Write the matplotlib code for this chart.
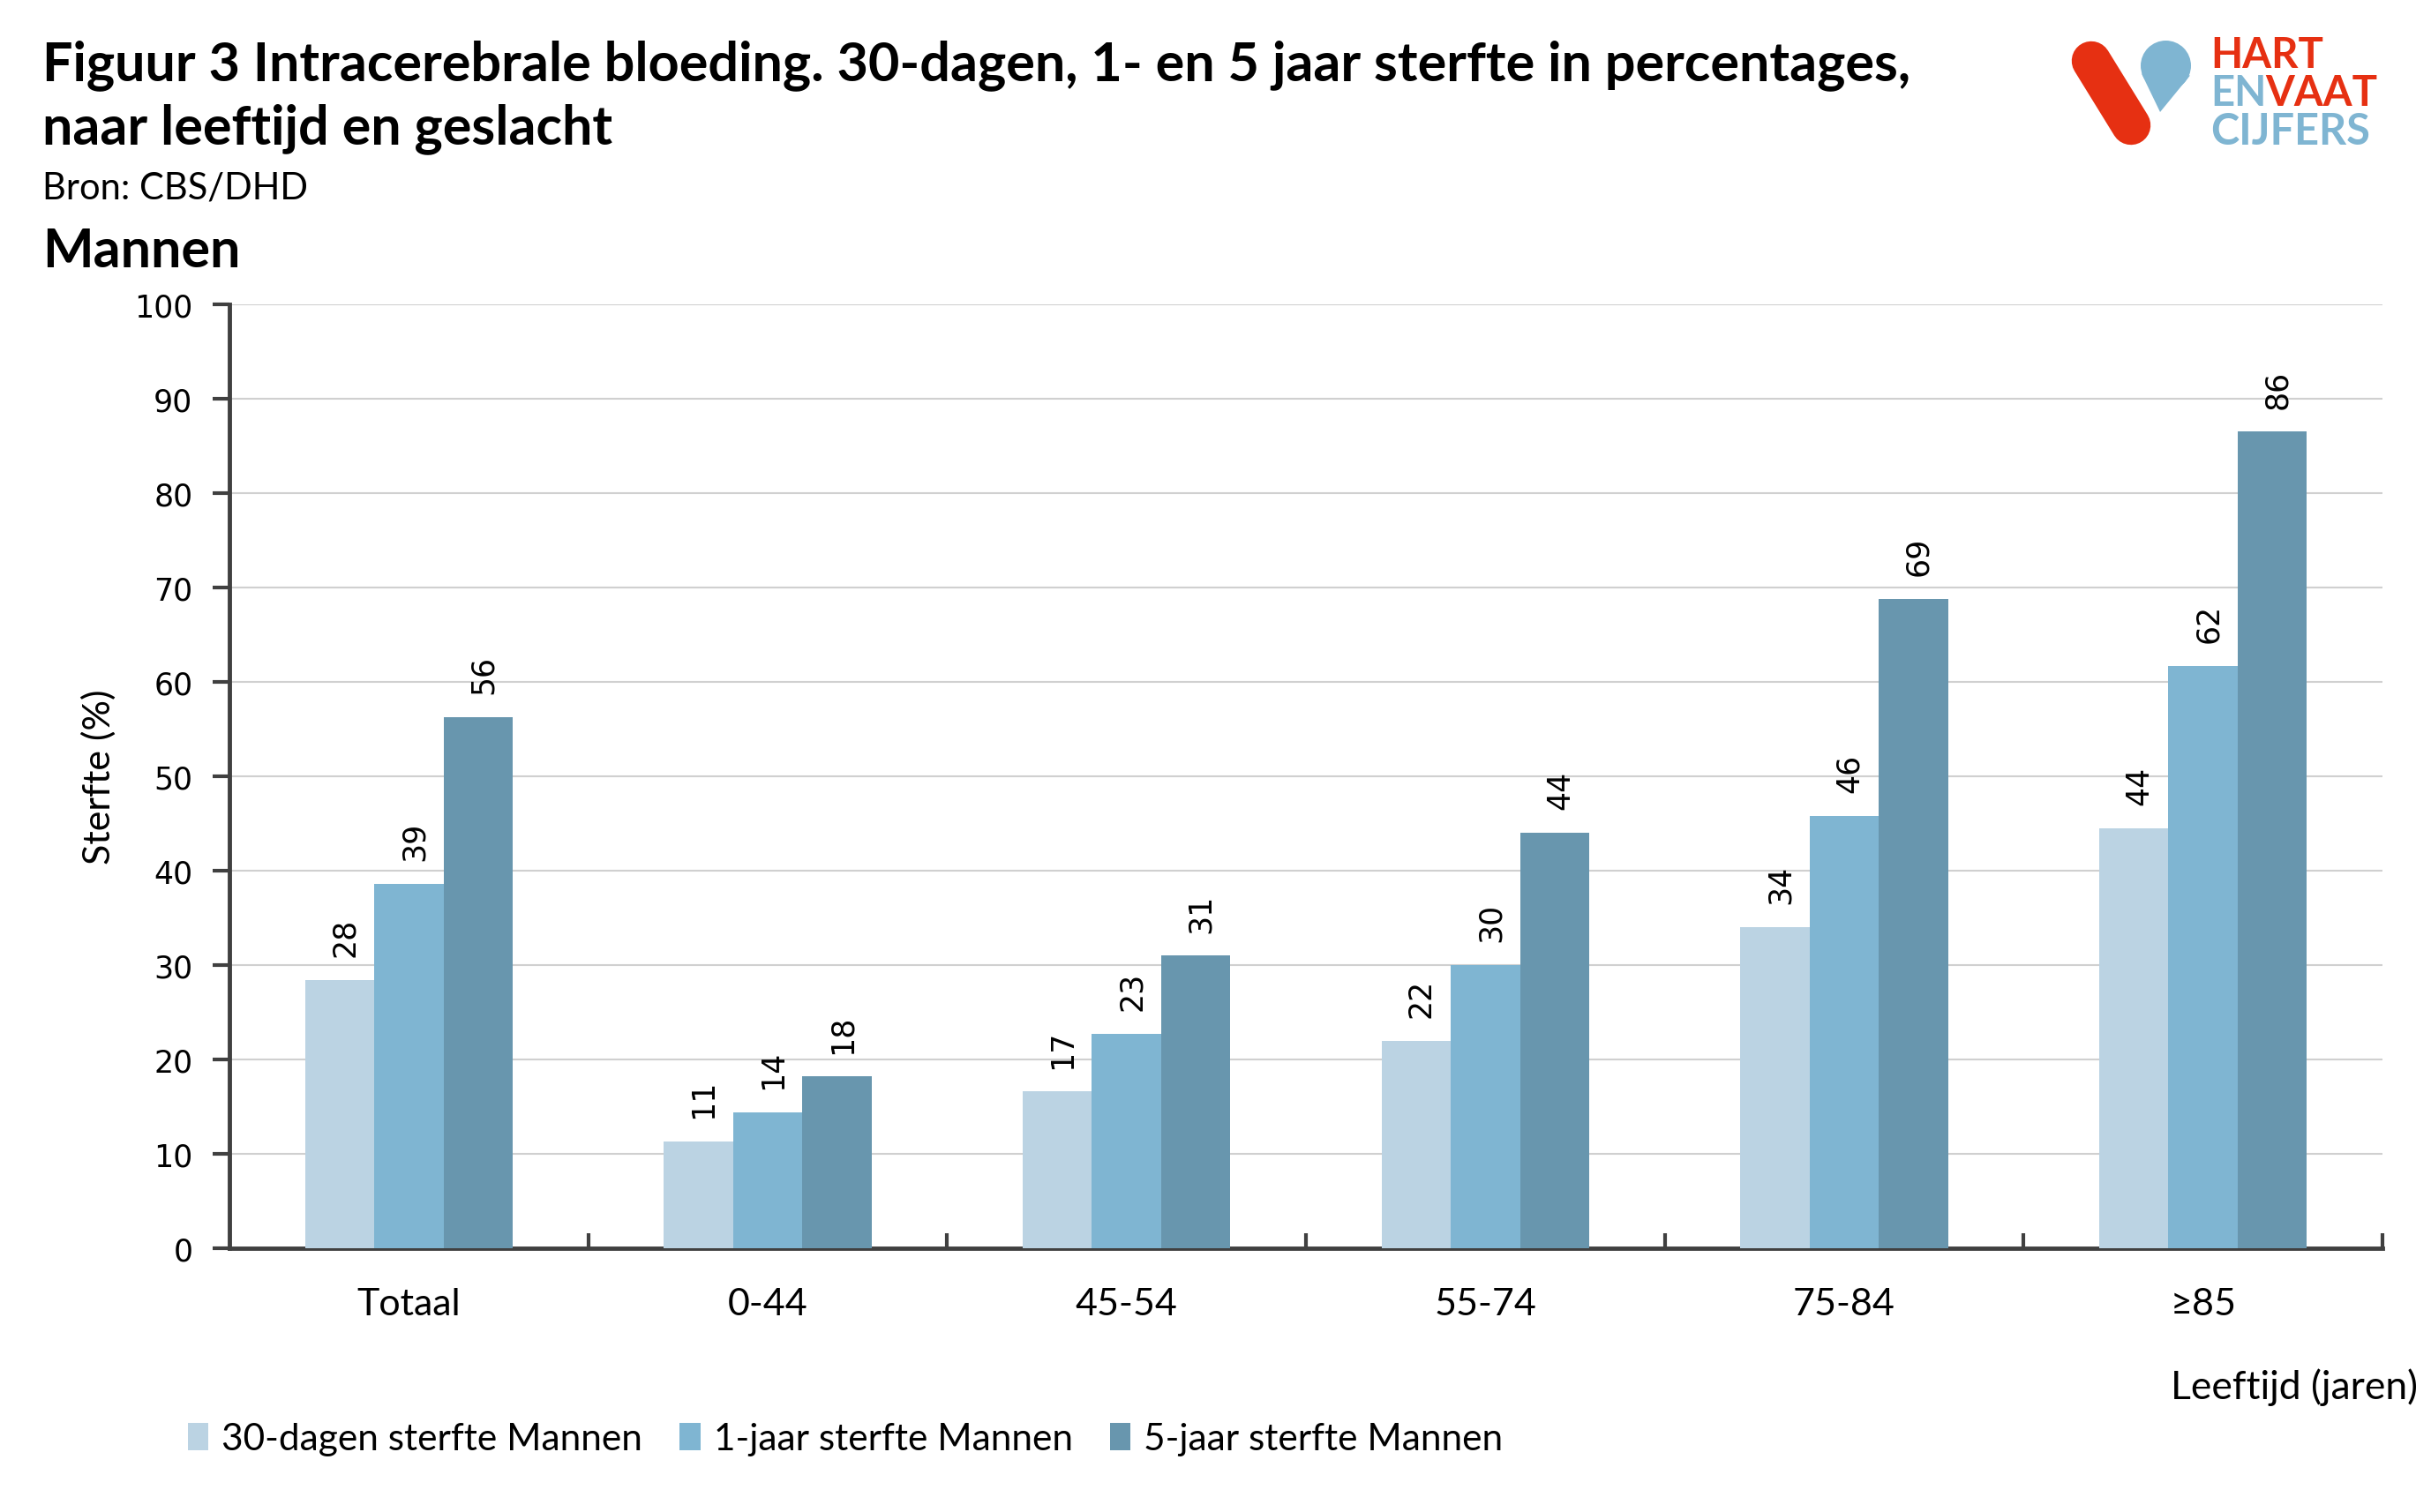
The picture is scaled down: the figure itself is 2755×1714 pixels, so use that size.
import matplotlib.pyplot as plt
import matplotlib.patches as mpatches
import numpy as np

categories = ["Totaal", "0-44", "45-54", "55-74", "75-84", "≥85"]
sterfte_30d = [28.4, 11.3, 16.6, 22.0, 34.0, 44.5]
sterfte_1j = [38.6, 14.4, 22.7, 30.0, 45.8, 61.7]
sterfte_5j = [56.3, 18.2, 31.0, 44.0, 68.8, 86.5]
series_names = ["30-dagen sterfte Mannen", "1-jaar sterfte Mannen", "5-jaar sterfte Mannen"]
colors = ["#BBD3E3", "#7FB5D2", "#6896AE"]

W, H = 2755, 1715
plt.rcParams['font.family'] = ['Lato', 'DejaVu Sans']

fig = plt.figure(figsize=(W / 100, H / 100), dpi=100)
ax = fig.add_axes([260 / W, 1 - 1416 / H, (2700 - 260) / W, (1416 - 346) / H])

x = np.arange(len(categories))
bw = 0.193
for i, (vals, name, col) in enumerate(zip([sterfte_30d, sterfte_1j, sterfte_5j], series_names, colors)):
    pos = x + (i - 1) * bw
    ax.bar(pos, vals, width=bw, color=col, label=name, zorder=3)
    for p, v in zip(pos, vals):
        ax.text(p + 0.015, v + 2.5, f"{round(v):d}", rotation=90, ha='center', va='bottom',
                fontsize=25, family='DejaVu Sans', color='black')

ax.set_xlim(-0.5, 5.5)
ax.set_ylim(0, 100)
ax.set_yticks(np.arange(0, 101, 10))
ax.yaxis.grid(True, color='#D0D0D0', lw=1.5, zorder=0)
ax.set_axisbelow(True)

for s in ['top', 'right']:
    ax.spines[s].set_visible(False)
for s in ['left', 'bottom']:
    ax.spines[s].set_color('#404040')
    ax.spines[s].set_linewidth(3.5)

ax.tick_params(axis='y', direction='out', length=14, width=3, color='#404040',
               labelsize=25, pad=16)
for lab in ax.get_yticklabels():
    lab.set_family('DejaVu Sans')

ax.set_xticks(x)
ax.set_xticklabels(categories, fontsize=31)
ax.tick_params(axis='x', length=0, pad=32)
ax.set_xticks(np.arange(0.5, 6, 1), minor=True)
ax.tick_params(axis='x', which='minor', direction='in', length=12, width=3, color='#404040')

ax.set_ylabel("Sterfte (%)", fontsize=31, labelpad=15)

fig.text(2740 / W, 1 - 1573 / H, "Leeftijd (jaren)", ha='right', va='center', fontsize=32)

leg = fig.legend(loc='center left', bbox_to_anchor=(175 / W, 1 - 1632 / H), ncol=3,
                 frameon=False, fontsize=30.5, handlelength=0.55, handleheight=0.75,
                 handletextpad=0.35, columnspacing=1.0)

# titles
fig.text(48 / W, 1 - 74 / H, "Figuur 3 Intracerebrale bloeding. 30-dagen, 1- en 5 jaar sterfte in percentages,",
         ha='left', va='center', fontsize=44, fontweight='bold')
fig.text(48 / W, 1 - 146 / H, "naar leeftijd en geslacht", ha='left', va='center',
         fontsize=44, fontweight='bold')
fig.text(48 / W, 1 - 214 / H, "Bron: CBS/DHD", ha='left', va='center', fontsize=30)
fig.text(48 / W, 1 - 285 / H, "Mannen", ha='left', va='center', fontsize=44, fontweight='bold')

# logo, drawn in pixel coordinates
red = "#E63012"
blue = "#7FB5D2"
lg = fig.add_axes([2330 / W, 1 - 180 / H, 420 / W, 150 / H])
lg.set_xlim(2330, 2750)
lg.set_ylim(180, 30)
lg.axis('off')
lg.plot([2370, 2415], [70, 143], color=red, lw=32, solid_capstyle='round')
cx, cy, r = 2454.5, 75.5, 28.5
lg.add_patch(mpatches.Circle((cx, cy), r, color=blue, lw=0))
lg.add_patch(mpatches.Polygon([(cx - r + 1, cy + 9), (cx + r - 1, cy + 11), (2448, 128)],
                              closed=True, color=blue, lw=0))
lg.text(2505, 63, "HART", color=red, fontsize=34, fontweight='bold', ha='left', va='center')
lg.text(2505, 106, "EN", color=blue, fontsize=34, fontweight='bold', ha='left', va='center')
lg.text(2567, 106, "VAAT", color=red, fontsize=34, fontweight='bold', ha='left', va='center')
lg.text(2505, 150, "CIJFERS", color=blue, fontsize=35, fontweight='bold', ha='left', va='center')

fig.savefig("out.png", dpi=100)
